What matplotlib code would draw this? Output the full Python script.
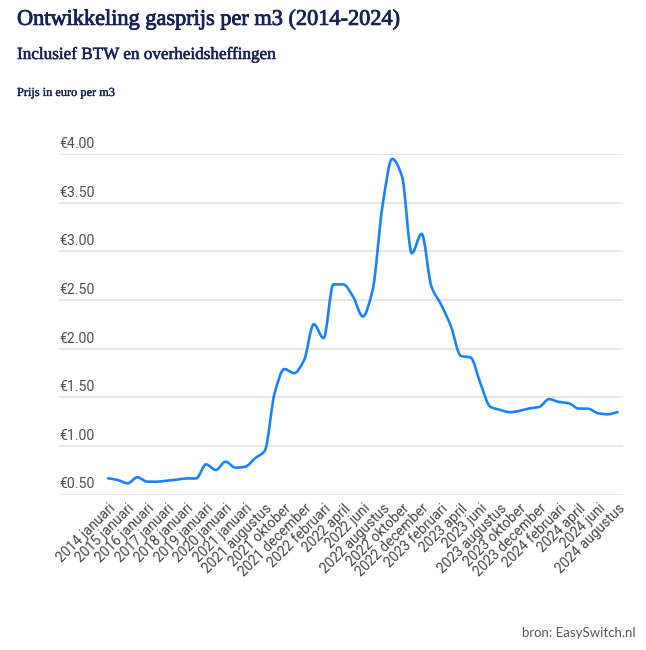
import numpy as np
import matplotlib
matplotlib.use("Agg")
import matplotlib.pyplot as plt
from matplotlib.path import Path
from matplotlib.patches import PathPatch
import matplotlib.transforms as mtransforms
import matplotlib.patheffects as pe

# ---- data ----
categories = [
    "2014 januari", "2014 juli", "2015 januari", "2015 juli", "2016 januari", "2016 juli",
    "2017 januari", "2017 juli", "2018 januari", "2018 juli", "2019 januari", "2019 juli",
    "2020 januari", "2020 juli", "2021 januari", "2021 juli", "2021 augustus", "2021 september",
    "2021 oktober", "2021 november", "2021 december", "2022 januari", "2022 februari", "2022 maart",
    "2022 april", "2022 mei", "2022 juni", "2022 juli", "2022 augustus", "2022 september",
    "2022 oktober", "2022 november", "2022 december", "2023 januari", "2023 februari", "2023 maart",
    "2023 april", "2023 mei", "2023 juni", "2023 juli", "2023 augustus", "2023 september",
    "2023 oktober", "2023 november", "2023 december", "2024 januari", "2024 februari", "2024 maart",
    "2024 april", "2024 mei", "2024 juni", "2024 juli", "2024 augustus",
]
prices = [
    0.667, 0.649, 0.615, 0.677, 0.632, 0.632, 0.642, 0.652, 0.665, 0.665,
    0.810, 0.752, 0.837, 0.776, 0.786, 0.872, 0.950, 1.540, 1.790, 1.747,
    1.880, 2.250, 2.107, 2.660, 2.660, 2.535, 2.330, 2.600, 3.460, 3.950,
    3.770, 2.980, 3.180, 2.638, 2.450, 2.226, 1.925, 1.908, 1.644, 1.403,
    1.370, 1.346, 1.360, 1.385, 1.400, 1.480, 1.452, 1.438, 1.384, 1.382,
    1.335, 1.325, 1.347,
]
y_ticks = [0.5, 1.0, 1.5, 2.0, 2.5, 3.0, 3.5, 4.0]
y_tick_labels = ["€0.50", "€1.00", "€1.50", "€2.00", "€2.50", "€3.00", "€3.50", "€4.00"]

title = "Ontwikkeling gasprijs per m3 (2014-2024)"
subtitle = "Inclusief BTW en overheidsheffingen"
unit_label = "Prijs in euro per m3"
source = "bron: EasySwitch.nl"

# ---- figure ----
W, H = 646, 650
fig = plt.figure(figsize=(W / 100, H / 100), dpi=100)
fig.patch.set_facecolor("white")

left_px, right_px, top_px, bottom_px = 59, 623, 154, 494.5
ax = fig.add_axes([left_px / W, 1 - bottom_px / H, (right_px - left_px) / W, (bottom_px - top_px) / H])

x = np.arange(len(prices), dtype=float)
y = np.array(prices)
n = len(x)

# monotone cubic tangents (Fritsch-Carlson) -> Bezier segments for a smooth line
d = np.diff(y) / np.diff(x)
m = np.zeros(n)
m[0], m[-1] = d[0], d[-1]
for i in range(1, n - 1):
    if d[i - 1] * d[i] <= 0:
        m[i] = 0.0
    else:
        m[i] = 2.0 / (1.0 / d[i - 1] + 1.0 / d[i])
verts = [(x[0], y[0])]
codes = [Path.MOVETO]
for i in range(n - 1):
    h = x[i + 1] - x[i]
    verts += [(x[i] + h / 3, y[i] + m[i] * h / 3),
              (x[i + 1] - h / 3, y[i + 1] - m[i + 1] * h / 3),
              (x[i + 1], y[i + 1])]
    codes += [Path.CURVE4] * 3
patch = PathPatch(Path(verts, codes), facecolor="none", edgecolor="#1a82ff",
                  linewidth=1.9, capstyle="round", joinstyle="round", zorder=3)
ax.add_patch(patch)

ax.set_xlim(-5.0, 52.55)
ax.set_ylim(0.5, 4.0)

for s in ax.spines.values():
    s.set_visible(False)
ax.set_yticks(y_ticks)
ax.set_yticklabels([])
ax.tick_params(axis="y", length=0)
ax.grid(axis="y", color="#e2e2e2", linewidth=1.2, zorder=0)
ax.set_axisbelow(True)

# y labels above gridlines
trans = mtransforms.offset_copy(ax.get_yaxis_transform(), fig=fig, x=0, y=3, units="dots")
for v, lab in zip(y_ticks, y_tick_labels):
    ax.text(0, v, lab, transform=trans, ha="left", va="bottom",
            fontsize=10.2, color="#505050", family="Roboto")

# x labels every second category
ax.set_xticks(x[::2])
ax.set_xticklabels(categories[::2], rotation=45, ha="right", va="top",
                   rotation_mode="anchor", fontsize=10.0, color="#444444", family="Roboto")
ax.tick_params(axis="x", length=0, pad=5)

# header texts, sized to the reference widths
renderer = fig.canvas.get_renderer()
def fitted_text(xp, yp, s, target_w, size, **kw):
    t = fig.text(xp / W, 1 - yp / H, s, ha="left", va="center", fontsize=size, **kw)
    w = t.get_window_extent(renderer).width
    t.set_fontsize(size * target_w / w)
    return t

navy = "#172350"
stroke = [pe.withStroke(linewidth=0.6, foreground=navy)]
fitted_text(17, 20, title, 383, 16, color=navy, family="Liberation Serif", path_effects=stroke)
fitted_text(17, 55, subtitle, 260, 12.4, color=navy, family="Liberation Serif",
            path_effects=[pe.withStroke(linewidth=0.4, foreground=navy)])
fitted_text(17, 93, unit_label, 98, 8.2, color=navy, family="Liberation Serif",
            path_effects=[pe.withStroke(linewidth=0.25, foreground=navy)])
fig.text(636 / W, 1 - 633 / H, source, ha="right", va="center", fontsize=9.5,
         color="#555555", family="Lato")

fig.savefig("out.png", dpi=100, facecolor="white")
